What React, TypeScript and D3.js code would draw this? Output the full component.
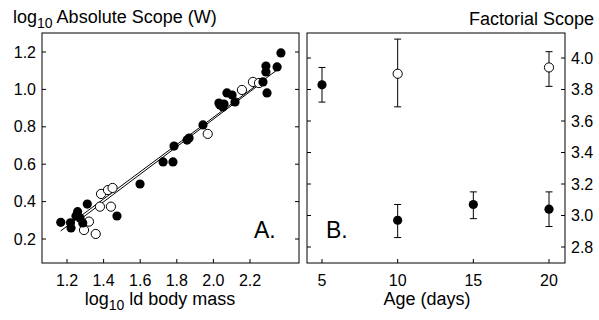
import React from "react";
import * as d3 from "d3";

// ---- Panel A data (log10 body mass vs log10 absolute scope) ----
const filledMass = [1.166, 1.219, 1.222, 1.249, 1.258, 1.271, 1.286, 1.311, 1.473, 1.599, 1.725, 1.779, 1.785, 1.856, 1.867, 1.943, 2.03, 2.036, 2.052, 2.058, 2.074, 2.102, 2.118, 2.271, 2.287, 2.287, 2.293, 2.348, 2.369];
const filledScope = [0.289, 0.287, 0.259, 0.323, 0.346, 0.312, 0.286, 0.387, 0.323, 0.494, 0.612, 0.612, 0.697, 0.729, 0.74, 0.81, 0.927, 0.917, 0.906, 0.922, 0.981, 0.97, 0.933, 1.04, 1.093, 1.125, 0.981, 1.12, 1.195];
const openMass = [1.293, 1.357, 1.32, 1.38, 1.386, 1.424, 1.449, 1.44, 1.969, 2.156, 2.216, 2.249];
const openScope = [0.248, 0.227, 0.293, 0.373, 0.441, 0.462, 0.473, 0.373, 0.762, 0.997, 1.04, 1.034];
const fitFilledMass = [1.165, 2.37];
const fitFilledScope = [0.243, 1.12];
const fitOpenMass = [1.29, 2.25];
const fitOpenScope = [0.318, 1.025];
const massTicks = [1.2, 1.4, 1.6, 1.8, 2.0, 2.2];
const scopeTicks = [0.2, 0.4, 0.6, 0.8, 1.0, 1.2];

// ---- Panel B data (age vs factorial scope) ----
const agesFilled = [5, 10, 15, 20];
const factFilled = [3.83, 2.97, 3.07, 3.04];
const factFilledHi = [3.94, 3.07, 3.15, 3.15];
const factFilledLo = [3.72, 2.86, 2.98, 2.93];
const agesOpen = [10, 20];
const factOpen = [3.9, 3.94];
const factOpenHi = [4.12, 4.04];
const factOpenLo = [3.69, 3.82];
const ageTicks = [5, 10, 15, 20];
const factTicks = [2.8, 3.0, 3.2, 3.4, 3.6, 3.8, 4.0];

const FONT = "'Liberation Sans', Arial, Helvetica, sans-serif";

export default function App() {
  const W = 599, H = 320;
  const top = 33, bottom = 263;
  const aL = 42, aR = 299;
  const bL = 307, bR = 565;
  const tick = 4;

  const xA = d3.scaleLinear().domain([1.2, 2.2]).range([67, 250]);
  const yA = d3.scaleLinear().domain([0.2, 1.2]).range([239, 52]);
  const xB = d3.scaleLinear().domain([5, 20]).range([322, 549]);
  const yB = d3.scaleLinear().domain([2.8, 4.0]).range([247, 58]);

  const line = d3.line<[number, number]>().x(d => xA(d[0])).y(d => yA(d[1]));
  const fitF = line(fitFilledMass.map((m, i) => [m, fitFilledScope[i]]));
  const fitO = line(fitOpenMass.map((m, i) => [m, fitOpenScope[i]]));

  const r = 4.6;
  const fs = 16;
  const ts = 18;

  return (
    <svg width={W} height={H} style={{ position: "absolute", left: 0, top: 0, background: "#fff" }} fontFamily={FONT}>
      {/* Panel A frame */}
      <rect x={aL} y={top} width={aR - aL} height={bottom - top} fill="none" stroke="#000" strokeWidth={1} />
      {scopeTicks.map(t => (
        <g key={"ya" + t}>
          <line x1={aL} x2={aL + tick} y1={yA(t)} y2={yA(t)} stroke="#000" />
          <line x1={aR - tick} x2={aR} y1={yA(t)} y2={yA(t)} stroke="#000" />
          <text x={aL - 6} y={yA(t) + 5.5} textAnchor="end" fontSize={fs}>{t.toFixed(1)}</text>
        </g>
      ))}
      {massTicks.map(t => (
        <g key={"xa" + t}>
          <line x1={xA(t)} x2={xA(t)} y1={bottom} y2={bottom - tick} stroke="#000" />
          <text x={xA(t)} y={286} textAnchor="middle" fontSize={fs}>{t.toFixed(1)}</text>
        </g>
      ))}
      <path d={fitF || ""} fill="none" stroke="#000" strokeWidth={1} />
      <path d={fitO || ""} fill="none" stroke="#000" strokeWidth={1} />
      {openMass.map((m, i) => (
        <circle key={"o" + i} cx={xA(m)} cy={yA(openScope[i])} r={r} fill="#fff" stroke="#000" strokeWidth={1} />
      ))}
      {filledMass.map((m, i) => (
        <circle key={"f" + i} cx={xA(m)} cy={yA(filledScope[i])} r={r} fill="#000" />
      ))}
      <text x={254} y={238} fontSize={23}>A.</text>
      <text x={13} y={23} fontSize={ts}>
        log<tspan dy={5} fontSize={14}>10</tspan><tspan dy={-5}> Absolute Scope (W)</tspan>
      </text>
      <text x={160} y={305} textAnchor="middle" fontSize={ts}>
        log<tspan dy={5} fontSize={14}>10</tspan><tspan dy={-5}> ld body mass</tspan>
      </text>

      {/* Panel B frame */}
      <rect x={bL} y={top} width={bR - bL} height={bottom - top} fill="none" stroke="#000" strokeWidth={1} />
      {factTicks.map(t => (
        <g key={"yb" + t}>
          <line x1={bL} x2={bL + tick} y1={yB(t)} y2={yB(t)} stroke="#000" />
          <line x1={bR - tick} x2={bR} y1={yB(t)} y2={yB(t)} stroke="#000" />
          <text x={571} y={yB(t) + 5.5} textAnchor="start" fontSize={fs}>{t.toFixed(1)}</text>
        </g>
      ))}
      {ageTicks.map(t => (
        <g key={"xb" + t}>
          <line x1={xB(t)} x2={xB(t)} y1={bottom} y2={bottom - tick} stroke="#000" />
          <text x={xB(t)} y={286} textAnchor="middle" fontSize={fs}>{t}</text>
        </g>
      ))}
      {agesFilled.map((a, i) => (
        <g key={"eb" + i}>
          <line x1={xB(a)} x2={xB(a)} y1={yB(factFilledHi[i])} y2={yB(factFilledLo[i])} stroke="#000" />
          <line x1={xB(a) - 3.5} x2={xB(a) + 3.5} y1={yB(factFilledHi[i])} y2={yB(factFilledHi[i])} stroke="#000" />
          <line x1={xB(a) - 3.5} x2={xB(a) + 3.5} y1={yB(factFilledLo[i])} y2={yB(factFilledLo[i])} stroke="#000" />
          <circle cx={xB(a)} cy={yB(factFilled[i])} r={r} fill="#000" />
        </g>
      ))}
      {agesOpen.map((a, i) => (
        <g key={"ebo" + i}>
          <line x1={xB(a)} x2={xB(a)} y1={yB(factOpenHi[i])} y2={yB(factOpenLo[i])} stroke="#000" />
          <line x1={xB(a) - 3.5} x2={xB(a) + 3.5} y1={yB(factOpenHi[i])} y2={yB(factOpenHi[i])} stroke="#000" />
          <line x1={xB(a) - 3.5} x2={xB(a) + 3.5} y1={yB(factOpenLo[i])} y2={yB(factOpenLo[i])} stroke="#000" />
          <circle cx={xB(a)} cy={yB(factOpen[i])} r={r} fill="#fff" stroke="#000" strokeWidth={1} />
        </g>
      ))}
      <text x={326} y={238} fontSize={23}>B.</text>
      <text x={594} y={25} textAnchor="end" fontSize={ts}>Factorial Scope</text>
      <text x={427} y={305} textAnchor="middle" fontSize={ts}>Age (days)</text>
    </svg>
  );
}
